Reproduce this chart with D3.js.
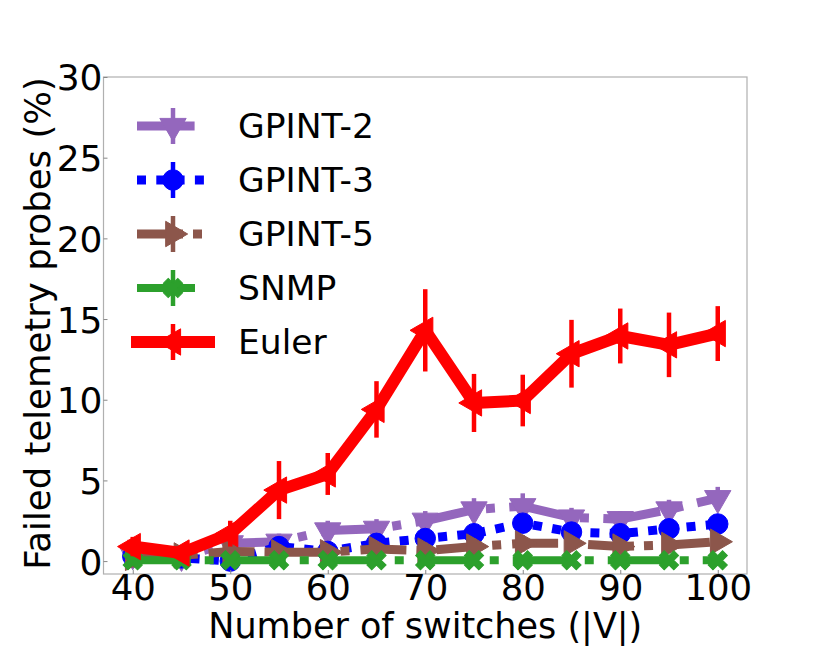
<!DOCTYPE html>
<html><head><meta charset="utf-8">
<script src="https://cdn.jsdelivr.net/npm/d3@7/dist/d3.min.js"></script>
<style>body{margin:0;background:#fff}svg{display:block}text{font-family:"DejaVu Sans",sans-serif;fill:#000}</style>
</head><body><svg id="c" width="830" height="646"></svg>
<script>
const switches = [40,45,50,55,60,65,70,75,80,85,90,95,100];
const xTicks = [40,50,60,70,80,90,100];
const yTicks = [0,5,10,15,20,25,30];
const seriesNames = ["GPINT-2","GPINT-3","GPINT-5","SNMP","Euler"];
const gpint2 = [0.4,0.3,1.1,1.2,1.9,2.0,2.5,3.2,3.4,2.7,2.6,3.2,3.9];
const gpint2Err = [0.3,0.3,0.4,0.5,0.6,0.6,0.6,0.7,0.8,0.6,0.5,0.6,0.7];
const gpint3 = [0.3,0.2,0.0,0.9,0.6,1.1,1.4,1.7,2.35,1.8,1.7,2.0,2.3];
const gpint3Err = [0.3,0.2,0.3,0.3,0.3,0.3,0.3,0.3,0.3,0.3,0.3,0.3,0.3];
const gpint5 = [0.2,0.35,0.6,0.55,0.55,0.75,0.65,0.9,1.1,1.1,0.9,1.0,1.2];
const gpint5Err = [0.6,0.4,0.5,0.5,0.4,0.4,0.5,0.5,0.5,0.4,0.4,0.4,0.4];
const snmp = [0.05,0.05,0.05,0.05,0.05,0.05,0.05,0.05,0.05,0.05,0.05,0.05,0.05];
const snmpErr = [0.3,0.3,0.3,0.3,0.3,0.3,0.3,0.3,0.3,0.3,0.3,0.3,0.3];
const euler = [0.9,0.5,1.7,4.4,5.4,9.4,14.3,9.8,9.95,12.85,13.95,13.4,14.1];
const eulerErr = [0.6,0.5,0.8,1.8,1.3,1.75,2.55,1.8,1.6,2.1,1.7,2.0,1.7];

const svg = d3.select("#c");
const L=103.5, R=747, T=77, B=574;
const x = d3.scaleLinear().domain([37,103]).range([L,R]);
const y = d3.scaleLinear().domain([-0.8,30]).range([B,T]);

const styles = [
  {color:"#9467bd", lw:9, dash:"57.6,14.4,9,14.4", sym:d3.symbolTriangle, rot:180, size:300},
  {color:"#0000ff", lw:9, dash:"9,10.3", sym:d3.symbolCircle, rot:0, size:330},
  {color:"#8c564b", lw:9, dash:"46,10,9,11", sym:d3.symbolTriangle, rot:90, size:280},
  {color:"#2ca02c", lw:8, dash:"58,14,9,14", sym:d3.symbolCross, rot:45, size:230},
  {color:"#ff0000", lw:12, dash:null, sym:d3.symbolTriangle, rot:-90, size:300}
];
const values = [gpint2,gpint3,gpint5,snmp,euler];
const errs = [gpint2Err,gpint3Err,gpint5Err,snmpErr,eulerErr];

svg.append("rect").attr("x",L).attr("y",T).attr("width",R-L).attr("height",B-T)
  .attr("fill","none").attr("stroke","#b0b0b0").attr("stroke-width",1.2);

const plot = svg.append("g");

values.forEach((vals,i)=>{
  const s = styles[i];
  const g = plot.append("g");
  g.selectAll("line.err").data(switches).enter().append("line")
    .attr("x1",d=>x(d)).attr("x2",d=>x(d))
    .attr("y1",(d,j)=>y(vals[j]-errs[i][j])).attr("y2",(d,j)=>y(vals[j]+errs[i][j]))
    .attr("stroke",s.color).attr("stroke-width",4.5);
  const line = d3.line().x((d,j)=>x(switches[j])).y(d=>y(d));
  g.append("path").attr("d",line(vals)).attr("fill","none")
    .attr("stroke",s.color).attr("stroke-width",s.lw)
    .attr("stroke-dasharray",s.dash).attr("stroke-linejoin","round")
    .attr("stroke-linecap", s.dash? "butt":"square");
  g.selectAll("path.m").data(switches).enter().append("path")
    .attr("d",d3.symbol().type(s.sym).size(s.size)())
    .attr("transform",(d,j)=>`translate(${x(d)},${y(vals[j])}) rotate(${s.rot})`)
    .attr("fill",s.color).attr("stroke",s.color).attr("stroke-width",1);
});

const FS = 35.5;
const xAxis = d3.axisBottom(x).tickValues(xTicks).tickSize(-4);
const gx = svg.append("g").attr("transform",`translate(0,${B})`).call(xAxis);
gx.select(".domain").remove();
gx.selectAll(".tick line").attr("stroke","#888");
gx.selectAll(".tick text").attr("font-size",FS).attr("font-family","DejaVu Sans").attr("fill","#000")
  .attr("y",26).attr("dy",null);

const yAxis = d3.axisLeft(y).tickValues(yTicks).tickSize(-4);
const gy = svg.append("g").attr("transform",`translate(${L},0)`).call(yAxis);
gy.select(".domain").remove();
gy.selectAll(".tick line").attr("stroke","#888");
gy.selectAll(".tick text").attr("font-size",36).attr("font-family","DejaVu Sans").attr("fill","#000")
  .attr("x",-1).attr("dy","0.36em");

svg.append("text").attr("x",(L+R)/2).attr("y",638).attr("text-anchor","middle")
  .attr("font-size",35).text("Number of switches (|V|)");
svg.append("text").attr("transform",`translate(50,${(T+B)/2 - 2}) rotate(-90)`).attr("text-anchor","middle")
  .attr("font-size",35.5).text("Failed telemetry probes (%)");

const legY = [126,180,234,288,342];
seriesNames.forEach((name,i)=>{
  const s = styles[i];
  const cy = legY[i];
  const g = svg.append("g");
  g.append("line").attr("x1",137).attr("x2",209).attr("y1",cy).attr("y2",cy)
    .attr("stroke",s.color).attr("stroke-width",s.lw).attr("stroke-dasharray",s.dash)
    .attr("stroke-linecap", s.dash? "butt":"square");
  g.append("line").attr("x1",173).attr("x2",173).attr("y1",cy-18).attr("y2",cy+18)
    .attr("stroke",s.color).attr("stroke-width",4.5);
  g.append("path").attr("d",d3.symbol().type(s.sym).size(s.size)())
    .attr("transform",`translate(173,${cy}) rotate(${s.rot})`)
    .attr("fill",s.color).attr("stroke",s.color);
  g.append("text").attr("x",238).attr("y",cy).attr("dy","0.36em").attr("font-size",34.5).text(name);
});
</script></body></html>
